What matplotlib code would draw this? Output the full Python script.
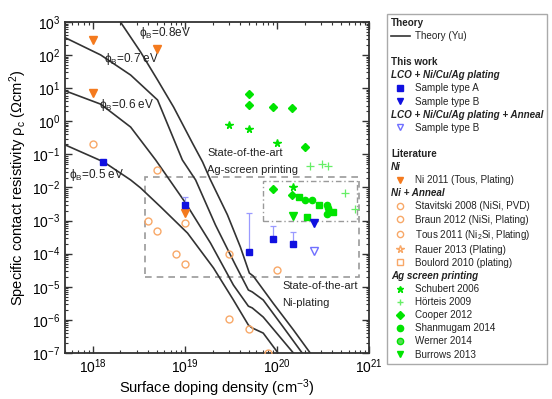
import matplotlib
matplotlib.use('Agg')
import matplotlib.pyplot as plt
from matplotlib.lines import Line2D
from matplotlib.patches import Rectangle
import matplotlib.ticker as mticker

plt.rcParams['font.family'] = ['Liberation Sans', 'DejaVu Sans']
plt.rcParams['mathtext.default'] = 'regular'

# ---------------- data ----------------
# Theory (Yu) curves, barrier heights
theory_labels = ['$\\phi_B$=0.5 eV', '$\\phi_B$=0.6 eV', '$\\phi_B$=0.7 eV', '$\\phi_B$=0.8eV']
th05_N = [5.1e17, 1.32e18, 2.58e18, 3.31e18, 5.46e18, 1.07e19, 2.05e19, 3.37e19, 4.9e19, 5.4e19, 7.1e19, 1.01e20, 1.23e20]
th05_rho = [0.19, 0.059, 0.0169, 9.7e-3, 2.6e-3, 4.2e-4, 3.7e-5, 4.0e-6, 7.0e-7, 5.7e-7, 4.0e-7, 1.07e-7, 5e-8]
th06_N = [5.1e17, 1.22e18, 2.58e18, 4.82e18, 1.02e19, 1.90e19, 3.37e19, 4.9e19, 5.4e19, 7.1e19, 1.51e20, 1.79e20]
th06_rho = [8.2, 3.3, 0.67, 0.068, 3.4e-3, 2.1e-4, 1.13e-5, 2.6e-6, 2.3e-6, 1.22e-6, 1.0e-7, 5.4e-8]
th07_N = [5.1e17, 1.22e18, 2.58e18, 5.06e18, 9.4e18, 1.31e19, 2.15e19, 3.54e19, 4.9e19, 5.4e19, 7.1e19, 1.17e20, 1.88e20, 2.24e20]
th07_rho = [329, 101, 25, 4.4, 0.068, 0.0169, 7.4e-4, 4.6e-5, 8.0e-6, 7.0e-6, 4.0e-6, 6.1e-7, 1.0e-7, 5.4e-8]
th08_N = [1.78e18, 2.0e18, 3.31e18, 5.06e18, 7.55e18, 1.21e19, 1.56e19, 1.90e19, 2.90e19, 4.01e19, 5.02e19, 5.55e19, 9.1e19, 1.51e20, 2.30e20, 2.68e20]
th08_rho = [2300, 1000, 124, 17.7, 2.7, 0.22, 0.059, 0.0169, 1.5e-3, 1.6e-4, 2.6e-5, 2.1e-5, 3.2e-6, 5.0e-7, 1.0e-7, 5.4e-8]

# This work
sampleA_N = [1.3e18, 1e19, 5e19, 9e19, 1.5e20]
sampleA_rho = [0.059, 2.9e-3, 1.1e-4, 2.7e-4, 2.0e-4]
sampleA_rho_top = [0.059, 5e-3, 1.7e-3, 7e-4, 4.6e-4]
sampleB_N = [2.5e20]
sampleB_rho = [8.5e-4]
sampleB_ann_N = [2.5e20]
sampleB_ann_rho = [1.2e-4]

# Literature - Ni
ni2011_N = [1e18, 5e18, 1e18, 1e19]
ni2011_rho = [290, 150, 7.2, 1.7e-3]
# Ni + Anneal
stav_N = [4e18, 5e18, 8e18, 1e19]
stav_rho = [1e-3, 5e-4, 1e-4, 5e-5]
braun_N = [1e19, 3e19, 1e20]
braun_rho = [8.5e-4, 1e-4, 3.2e-5]
tous_N = [1e18, 5e18, 3e19, 5e19, 8e19]
tous_rho = [0.2, 0.034, 1.07e-6, 5.4e-7, 1e-7]
# Ag screen printing
schubert_N = [3e19, 5e19, 1e20, 1.5e20]
schubert_rho = [0.78, 0.59, 0.22, 0.0104]
hoerteis_N = [2.3e20, 3.1e20, 3.6e20, 5.5e20, 7.1e20]
hoerteis_rho = [0.045, 0.051, 0.045, 7.0e-3, 2.2e-3]
cooper_N = [5e19, 5e19, 9e19, 1.45e20, 2e20, 9e19, 1.45e20]
cooper_rho = [6.6, 3.1, 2.7, 2.5, 0.17, 8.9e-3, 5.9e-3]
shanmugam_N = [2e20, 2.4e20, 3.5e20, 3.6e20, 3.7e20, 3.5e20]
shanmugam_rho = [4.2e-3, 4.2e-3, 2.9e-3, 2.4e-3, 1.9e-3, 1.6e-3]
werner_N = [1.74e20, 2.9e20, 4.1e20, 2.1e20]
werner_rho = [5.1e-3, 2.9e-3, 1.8e-3, 1.3e-3]
burrows_N = [1.5e20]
burrows_rho = [1.4e-3]

# state-of-the-art regions [N_min, N_max, rho_min, rho_max]
ni_region = [3.7e18, 7.8e20, 2e-5, 0.021]
ag_region = [7.1e19, 7.5e20, 9.5e-4, 0.016]

# ---------------- style ----------------
C_TH = '#333333'
C_OR = '#f47a1e'
C_OR_LIGHT = '#f8a868'
C_BLUE = '#1010e0'
C_BLUE_LIGHT = '#7070ff'
C_ERR = '#9a9aff'
C_GREEN = '#00e400'
C_GREEN_L = '#66ee66'

fig = plt.figure(figsize=(5.52, 3.99), dpi=100)
ax = fig.add_axes([65 / 552, 1 - 353 / 399, (369 - 65) / 552, (353 - 22) / 399])
ax.set_xscale('log')
ax.set_yscale('log')
ax.set_xlim(5e17, 1e21)
ax.set_ylim(1e-7, 1e3)

# regions
ax.add_patch(Rectangle((ni_region[0], ni_region[2]), ni_region[1] - ni_region[0], ni_region[3] - ni_region[2],
                       fill=False, ec='#9a9a9a', lw=1.2, ls=(0, (4, 3)), zorder=1))
ax.add_patch(Rectangle((ag_region[0], ag_region[2]), ag_region[1] - ag_region[0], ag_region[3] - ag_region[2],
                       fill=False, ec='#9a9a9a', lw=1.0, ls=(0, (4, 2, 1, 2)), zorder=1))

# theory
for Ns, rs in [(th05_N, th05_rho), (th06_N, th06_rho), (th07_N, th07_rho), (th08_N, th08_rho)]:
    ax.plot(Ns, rs, color=C_TH, lw=1.2, zorder=2)

# literature
for Ns, rs in [(stav_N, stav_rho), (braun_N, braun_rho), (tous_N, tous_rho)]:
    ax.plot(Ns, rs, 'o', ms=5, mfc='none', mec=C_OR_LIGHT, mew=1.0, ls='none', zorder=3)
ax.plot(ni2011_N, ni2011_rho, 'v', ms=5.2, color=C_OR, ls='none', zorder=4)

ax.plot(schubert_N, schubert_rho, '*', ms=5.5, color=C_GREEN, ls='none', zorder=4)
ax.plot(hoerteis_N, hoerteis_rho, '+', ms=5.5, color=C_GREEN_L, mew=0.9, ls='none', zorder=4)
ax.plot(cooper_N, cooper_rho, 'D', ms=4.5, color=C_GREEN, ls='none', zorder=4)
ax.plot(shanmugam_N, shanmugam_rho, 'o', ms=4.5, color=C_GREEN, ls='none', zorder=4)
ax.plot(werner_N, werner_rho, 's', ms=4, color=C_GREEN, ls='none', zorder=4)
ax.plot(burrows_N, burrows_rho, 'v', ms=5.2, color=C_GREEN, ls='none', zorder=4)

# this work
yerr_lo = [0 for _ in sampleA_rho]
yerr_hi = [t - r for t, r in zip(sampleA_rho_top, sampleA_rho)]
ax.errorbar(sampleA_N, sampleA_rho, yerr=[yerr_lo, yerr_hi], fmt='none', ecolor=C_ERR, elinewidth=0.9,
            capsize=2.5, capthick=0.9, zorder=4)
ax.plot(sampleA_N, sampleA_rho, 's', ms=4.3, color=C_BLUE, ls='none', zorder=5)
ax.plot(sampleB_N, sampleB_rho, 'v', ms=5.2, color=C_BLUE, ls='none', zorder=5)
ax.plot(sampleB_ann_N, sampleB_ann_rho, 'v', ms=5.2, mfc='none', mec=C_BLUE_LIGHT, mew=1.0, ls='none', zorder=5)

# axes formatting
ax.tick_params(which='both', direction='in', top=True, right=True, labelsize=10, color='#333333')
ax.tick_params(which='major', length=5, width=1.0)
ax.tick_params(which='minor', length=2.5, width=0.8)
ax.xaxis.set_major_locator(mticker.LogLocator(base=10, numticks=20))
ax.xaxis.set_minor_locator(mticker.LogLocator(base=10, subs=range(2, 10), numticks=20))
ax.yaxis.set_major_locator(mticker.LogLocator(base=10, numticks=20))
ax.yaxis.set_minor_locator(mticker.LogLocator(base=10, subs=range(2, 10), numticks=20))
ax.yaxis.set_minor_formatter(mticker.NullFormatter())
ax.xaxis.set_minor_formatter(mticker.NullFormatter())
for s in ax.spines.values():
    s.set_linewidth(1.3)
    s.set_color('#333333')
ax.set_xlabel('Surface doping density (cm$^{-3}$)', fontsize=10.5, labelpad=0.5)
ax.set_ylabel('Specific contact resistivity \u03c1$_c$ (\u03a9cm$^2$)', fontsize=10.5, labelpad=2)

# annotations
fs_ann = 8.5
ax.text(3.15e18, 466, theory_labels[3], fontsize=fs_ann, color='#222222', va='center')
ax.text(1.32e18, 76, theory_labels[2], fontsize=fs_ann, color='#222222', va='center')
ax.text(1.16e18, 3.1, theory_labels[1], fontsize=fs_ann, color='#222222', va='center')
ax.text(5.5e17, 0.024, theory_labels[0], fontsize=fs_ann, color='#222222', va='center')
ax.text(1.76e19, 0.11, 'State-of-the-art', fontsize=8, color='#222222', va='center')
ax.text(1.76e19, 0.034, 'Ag-screen printing', fontsize=8, color='#222222', va='center')
ax.text(1.15e20, 1.05e-5, 'State-of-the-art', fontsize=8, color='#222222', va='center')
ax.text(1.15e20, 3.2e-6, 'Ni-plating', fontsize=8, color='#222222', va='center')

# ---------------- legend ----------------
def blank():
    return Line2D([], [], ls='none')

rows = [
    ('Theory', blank(), 'h1'),
    ('Theory (Yu)', Line2D([], [], color=C_TH, lw=1.2), 'item'),
    (' ', blank(), 'blank'),
    ('This work', blank(), 'h1'),
    ('LCO + Ni/Cu/Ag plating', blank(), 'h2'),
    ('Sample type A', Line2D([], [], marker='s', ms=4, color=C_BLUE, ls='none'), 'item'),
    ('Sample type B', Line2D([], [], marker='v', ms=5, color=C_BLUE, ls='none'), 'item'),
    ('LCO + Ni/Cu/Ag plating + Anneal', blank(), 'h2'),
    ('Sample type B', Line2D([], [], marker='v', ms=5, mfc='none', mec=C_BLUE_LIGHT, ls='none'), 'item'),
    (' ', blank(), 'blank'),
    ('Literature', blank(), 'h1'),
    ('Ni', blank(), 'h2'),
    ('Ni 2011 (Tous, Plating)', Line2D([], [], marker='v', ms=5, color=C_OR, ls='none'), 'item'),
    ('Ni + Anneal', blank(), 'h2'),
    ('Stavitski 2008 (NiSi, PVD)', Line2D([], [], marker='o', ms=4.5, mfc='none', mec=C_OR_LIGHT, ls='none'), 'item'),
    ('Braun 2012 (NiSi, Plating)', Line2D([], [], marker='o', ms=4.5, mfc='none', mec=C_OR_LIGHT, ls='none'), 'item'),
    ('Tous 2011 (Ni$_2$Si, Plating)', Line2D([], [], marker='o', ms=4.5, mfc='none', mec=C_OR_LIGHT, ls='none'), 'item'),
    ('Rauer 2013 (Plating)', Line2D([], [], marker='*', ms=5.5, mfc='none', mec=C_OR_LIGHT, ls='none'), 'item'),
    ('Boulord 2010 (plating)', Line2D([], [], marker='s', ms=4, mfc='none', mec=C_OR_LIGHT, ls='none'), 'item'),
    ('Ag screen printing', blank(), 'h2'),
    ('Schubert 2006', Line2D([], [], marker='*', ms=5, color=C_GREEN, ls='none'), 'item'),
    ('H\u00f6rteis 2009', Line2D([], [], marker='+', ms=5, color=C_GREEN_L, ls='none'), 'item'),
    ('Cooper 2012', Line2D([], [], marker='D', ms=4, color=C_GREEN, ls='none'), 'item'),
    ('Shanmugam 2014', Line2D([], [], marker='o', ms=4.5, color=C_GREEN, ls='none'), 'item'),
    ('Werner 2014', Line2D([], [], marker='o', ms=4.5, mfc='#55dd55', mec=C_GREEN, ls='none'), 'item'),
    ('Burrows 2013', Line2D([], [], marker='v', ms=5, color=C_GREEN, ls='none'), 'item'),
]
handles = [r[1] for r in rows]
labels = [r[0] for r in rows]
leg = fig.legend(handles, labels, loc='upper left', bbox_to_anchor=(387 / 552, 1 - 14 / 399),
                 fontsize=7.1, frameon=True, fancybox=False, edgecolor='#aaaaaa', framealpha=1,
                 handlelength=1.9, handletextpad=0.5, labelspacing=0.315, borderpad=0.4,
                 borderaxespad=0)
leg.get_frame().set_linewidth(1.0)
texts = leg.get_texts()
for t, r in zip(texts, rows):
    t.set_color('#222222')
    if r[2] == 'h1':
        t.set_fontweight('bold')
    elif r[2] == 'h2':
        t.set_fontweight('bold')
        t.set_fontstyle('italic')

# remove indentation for header rows
try:
    row_boxes = []
    for col in leg._legend_handle_box.get_children():
        row_boxes.extend(col.get_children())
    for rb, r in zip(row_boxes, rows):
        if r[2] in ('h1', 'h2'):
            hb = rb.get_children()[0]
            hb.width = 0
            rb.sep = 0
except Exception:
    pass

fig.canvas.draw()
renderer = fig.canvas.get_renderer()
W, H = fig.bbox.width, fig.bbox.height
for t, r in zip(texts, rows):
    if r[2] == 'h1':
        bb = t.get_window_extent(renderer)
        yline = bb.y0 + 2.0
        fig.add_artist(Line2D([bb.x0 / W, bb.x1 / W], [yline / H, yline / H], transform=fig.transFigure,
                              color='#222222', lw=0.8))

fig.savefig('out.png', dpi=100)
